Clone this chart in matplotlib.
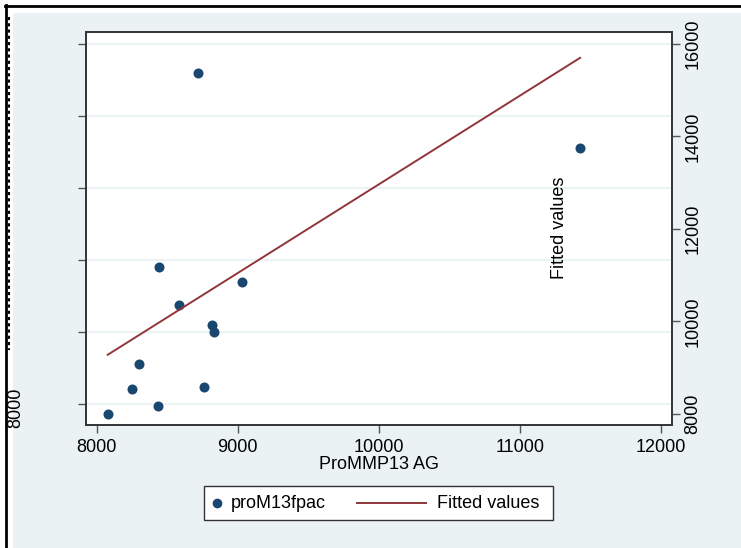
import matplotlib
matplotlib.use('Agg')
import matplotlib.pyplot as plt
from matplotlib.lines import Line2D
from matplotlib.patches import Rectangle

plt.rcParams['font.family'] = ['Liberation Sans', 'DejaVu Sans']

# data
prommp13_ag = [8078, 8250, 8298, 8435, 8442, 8584, 8718, 8759, 8816, 8834, 9033, 11428]
prom13fpac = [7722, 8425, 9111, 7953, 11797, 10750, 17194, 8481, 10186, 10008, 11389, 15111]
fit_x = [8078, 11428]
fit_y = [9280, 15700]

left_ticks = [8000, 10000, 12000, 14000, 16000, 18000]
right_ticks = [8000, 10000, 12000, 14000, 16000]
x_ticks = [8000, 9000, 10000, 11000, 12000]

W, H = 741, 548
BG = '#EAF2F3'
NAVY = '#1A476F'
MAROON = '#90353B'
FS = 13


def fx(x):
    return x / W


def fy(y):
    return 1 - y / H


fig = plt.figure(figsize=(W / 100, H / 100), dpi=100)
fig.patch.set_facecolor('white')

# outer background and the frame bits on top / left
fig.patches.append(Rectangle((fx(13), 0), 1, fy(13), transform=fig.transFigure,
                             facecolor=BG, edgecolor='none', zorder=-5))
fig.lines.append(Line2D([fx(5), 1], [fy(6), fy(6)], transform=fig.transFigure,
                        color='black', lw=2, zorder=-4))
fig.lines.append(Line2D([fx(6), fx(6)], [0, fy(5)], transform=fig.transFigure,
                        color='black', lw=2, zorder=-4))
fig.lines.append(Line2D([fx(9), fx(9)], [fy(17), fy(350)], transform=fig.transFigure,
                        color='black', lw=1.5, linestyle=(0, (1.5, 1.5)), zorder=-4))

ax = fig.add_axes([fx(85.7), fy(425), (671.7 - 85.7) / W, (425 - 32) / H])
ax.set_facecolor('white')
ax.scatter(prommp13_ag, prom13fpac, s=52, color=NAVY, zorder=3, linewidths=0)
ax.set_xlim(7922, 12078)
ax.set_ylim(7417, 18333)
ax.set_yticks(left_ticks)
ax.set_xticks(x_ticks)
ax.grid(axis='y', color=BG, lw=1.3)
ax.set_axisbelow(True)
ax.tick_params(axis='y', direction='out', length=6, width=1, color='#555555', labelleft=False)
ax.tick_params(axis='x', direction='out', length=6, width=1, color='#555555',
               labelsize=FS, pad=4)
for s in ax.spines.values():
    s.set_color('#333333')
    s.set_linewidth(1.2)
ax.set_xlabel('ProMMP13 AG', fontsize=FS, labelpad=0)

ax2 = ax.twinx()
ax2.plot(fit_x, fit_y, color=MAROON, lw=1.4)
ax2.set_ylim(7762, 16259)
ax2.set_yticks(right_ticks)
ax2.tick_params(axis='y', direction='out', length=6, width=1, color='#555555',
                labelsize=FS, pad=3)
for lab in ax2.get_yticklabels():
    lab.set_rotation(90)
    lab.set_va('center')
for s in ax2.spines.values():
    s.set_color('#333333')
    s.set_linewidth(1.2)

# stray titles
fig.text(fx(560), fy(228), 'Fitted values', rotation=90, fontsize=FS,
         ha='center', va='center')
fig.text(fx(16), fy(408), '8000', rotation=90, fontsize=FS,
         ha='center', va='center')

# legend box
fig.patches.append(Rectangle((fx(204), fy(520)), (553 - 204) / W, (520 - 486) / H,
                             transform=fig.transFigure, facecolor='white',
                             edgecolor='#333333', lw=1))
fig.lines.append(Line2D([fx(217)], [fy(503)], transform=fig.transFigure,
                        marker='o', markersize=7, color=NAVY, markeredgewidth=0))
fig.text(fx(231), fy(503), 'proM13fpac', fontsize=FS, va='center', ha='left')
fig.lines.append(Line2D([fx(357), fx(426)], [fy(503), fy(503)],
                        transform=fig.transFigure, color=MAROON, lw=1.4))
fig.text(fx(437), fy(503), 'Fitted values', fontsize=FS, va='center', ha='left')

fig.savefig('out.png', dpi=100)
